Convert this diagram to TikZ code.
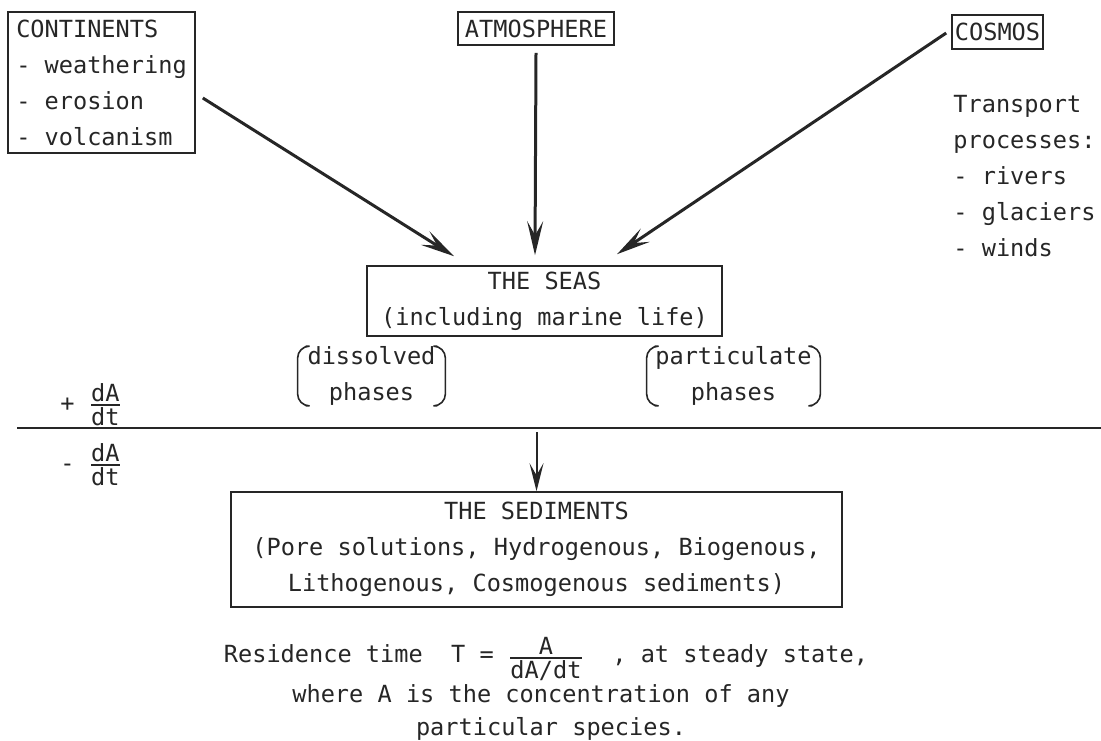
\documentclass[tikz,border=0pt]{standalone}
\usepackage{fontspec}
\setmainfont{DejaVu Sans Mono}
\usetikzlibrary{arrows.meta}

\newcommand{\ratio}[2]{$\mbox{#1}\above0.8pt\mbox{#2}$}

\begin{document}
\begin{tikzpicture}[x=0.5pt,y=-0.5pt,>={Stealth[length=17pt,width=8pt,inset=7pt]},
    font=\fontsize{11.8}{18}\selectfont,color=black!85,
    box/.style={draw,line width=0.8pt,inner sep=0pt,align=center},
    flow/.style={->,line width=1.5pt},
    phase/.style={inner sep=0pt,align=center}]

    \useasboundingbox (0,0) rectangle (1101,740);

    % sources
    \node[box,align=left,minimum width=93.5pt,minimum height=70.5pt] (cont) at (101.5,82.5)
        {CONTINENTS\\- weathering\\- erosion\\- volcanism};
    \node[box,minimum width=78pt,minimum height=16.5pt] (atm) at (536,28.5) {ATMOSPHERE};
    \node[box,minimum width=45.5pt,minimum height=17pt] (cos) at (997.5,32) {COSMOS};
    \node[align=left,anchor=west,inner sep=3pt] (trans) at (947,176)
        {Transport\\processes:\\- rivers\\- glaciers\\- winds};

    % the seas
    \node[box,minimum width=177.5pt,minimum height=35pt] (seas) at (544.5,301)
        {THE SEAS\\(including marine life)};

    \draw[flow] ([shift={(7,15.5)}]cont.east) -- ([shift={(-90.5,-9)}]seas.north);
    \draw[flow] ([shift={(0,7)}]atm.south) -- ([shift={(-9.5,-10)}]seas.north);
    \draw[flow] ([shift={(-5,1)}]cos.west) -- ([shift={(72.5,-11)}]seas.north);

    \node[phase,minimum width=73.5pt] (diss) at (371.5,376) {dissolved\\phases};
    \node[phase,minimum width=86.5pt] (part) at (733.5,376) {particulate\\phases};
    \foreach \n in {diss,part} {
        \draw[line width=0.8pt,rounded corners=6pt] ([xshift=4pt]\n.north west) -- (\n.north west)
            -- (\n.south west) -- ([xshift=4pt]\n.south west);
        \draw[line width=0.8pt,rounded corners=6pt] ([xshift=-4pt]\n.north east) -- (\n.north east)
            -- (\n.south east) -- ([xshift=-4pt]\n.south east);
    }

    % interface
    \draw[line width=1pt] (17,428) -- (1101,428);
    \node[anchor=base west,inner sep=0pt] (gain) at (60,411) {+~\ratio{dA}{dt}};
    \node[anchor=base west,inner sep=0pt] (loss) at (60,471) {-~\ratio{dA}{dt}};

    % the sediments
    \node[box,minimum width=305.5pt,minimum height=57.5pt] (sed) at (536.5,549.5)
        {THE SEDIMENTS\\(Pore solutions, Hydrogenous, Biogenous,\\Lithogenous, Cosmogenous sediments)};
    \coordinate (cut) at (536.5,432);
    \draw[->,line width=1pt,>={Stealth[length=14pt,width=7pt,inset=6pt]}] (cut) -- (sed.north);

    \node[anchor=base,inner sep=0pt] (res) at (546,662)
        {Residence time~~T~=~\raisebox{-1pt}{\ratio{A}{dA/dt}}~~, at steady state,};
    \node[anchor=base,inner sep=0pt] (res2) at (541,702) {where A is the concentration of any};
    \node[anchor=base,inner sep=0pt] (res3) at (551,735) {particular species.};

\end{tikzpicture}
\end{document}
